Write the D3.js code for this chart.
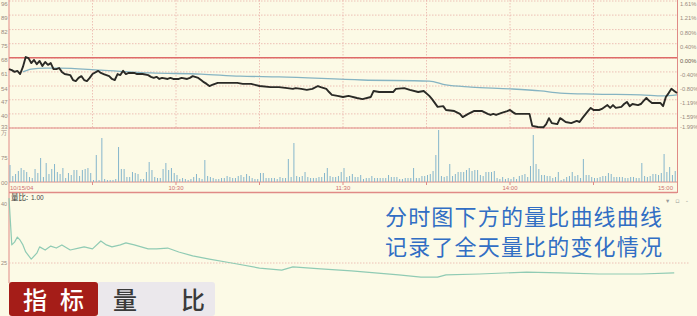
<!DOCTYPE html>
<html>
<head>
<meta charset="utf-8">
<script src="https://cdn.jsdelivr.net/npm/d3@7"></script>
<style>
  body { margin: 0; background: #fcfae6; }
  svg { display: block; }
</style>
</head>
<body>
<div id="chart"></div>
<script>
// axis labels
const pctTicks = [1.61, 1.21, 0.80, 0.40, 0.00, -0.40, -0.80, -1.19, -1.59, -1.99];
const priceTickLabels = ["96", "89", "82", "75", "68", "61", "54", "47", "40", "33"];
const gridMinutes = [30, 60, 90, 120, 150, 180, 210];
const timeLabelMinutes = [0, 60, 120, 180, 240];
const timeLabelTexts = ["10/15/04", "10:30", "11:30", "14:00", "15:00"];
const volTicks = [150, 75, 0];
const volTickLabels = ["万", "75", "00"];
const lbTicks = [40, 25];

// price line (% change), read at these minutes
const priceMinutes = [0,1,2,3,4,5,6,7,8,9,10,11,12,13,14,15,16,17,18,19,20,22,23,24,25,26,27,28,29,30,32,33,34,36,37,38,39,40,41,42,43,45,46,48,50,51,52,53,54,55,57,58,59,61,62,64,65,66,68,69,70,71,72,73,75,79,82,84,87,90,94,97,100,102,103,105,107,109,111,112,114,115,116,118,120,122,125,127,130,131,133,138,139,142,144,147,149,151,152,154,156,157,160,162,163,165,167,170,172,173,174,175,176,177,179,180,181,182,187,188,190,192,193,194,195,197,198,199,200,202,204,205,206,208,209,210,212,213,215,216,217,218,220,221,222,223,224,226,227,228,229,230,231,234,235,236,237,238,239,240];
const pricePct = [-0.32,-0.35,-0.40,-0.37,-0.46,-0.26,0.02,-0.01,-0.15,-0.06,-0.18,-0.09,-0.23,-0.12,-0.20,-0.15,-0.32,-0.32,-0.29,-0.40,-0.46,-0.49,-0.63,-0.66,-0.57,-0.52,-0.63,-0.66,-0.57,-0.46,-0.37,-0.43,-0.46,-0.52,-0.60,-0.63,-0.46,-0.49,-0.37,-0.46,-0.43,-0.43,-0.46,-0.46,-0.49,-0.54,-0.57,-0.54,-0.60,-0.57,-0.60,-0.57,-0.60,-0.60,-0.57,-0.60,-0.57,-0.52,-0.57,-0.63,-0.69,-0.74,-0.80,-0.77,-0.71,-0.71,-0.71,-0.74,-0.74,-0.80,-0.83,-0.83,-0.86,-0.88,-0.86,-0.88,-0.91,-0.88,-0.80,-0.83,-0.88,-0.97,-1.05,-1.08,-1.11,-1.08,-1.14,-1.17,-1.11,-0.94,-0.97,-0.97,-0.88,-0.86,-0.91,-0.97,-0.94,-1.08,-1.17,-1.39,-1.37,-1.48,-1.51,-1.59,-1.68,-1.59,-1.51,-1.51,-1.59,-1.62,-1.59,-1.62,-1.59,-1.56,-1.51,-1.48,-1.54,-1.59,-1.59,-1.93,-1.96,-1.97,-1.88,-1.71,-1.85,-1.88,-1.71,-1.76,-1.82,-1.85,-1.79,-1.82,-1.71,-1.51,-1.42,-1.48,-1.48,-1.45,-1.34,-1.42,-1.34,-1.42,-1.39,-1.31,-1.25,-1.37,-1.31,-1.34,-1.31,-1.22,-1.14,-1.22,-1.28,-1.28,-1.37,-1.11,-1.00,-0.88,-0.94,-1.00];

// average price line (% change)
const avgMinutes = [5, 8, 13, 18, 33, 51, 69, 83, 97, 127, 151, 157, 166, 180, 191, 198, 210, 227, 235, 240];
const avgPct = [-0.40, -0.32, -0.29, -0.29, -0.35, -0.43, -0.46, -0.52, -0.54, -0.63, -0.66, -0.77, -0.83, -0.88, -0.94, -1.00, -1.03, -1.05, -1.08, -1.05];

// volume per minute
const volumes = [51,18,24,33,42,36,30,15,12,39,
  27,72,15,57,24,39,54,30,24,42,
  12,27,21,36,36,18,36,39,42,27,
  6,81,6,132,9,6,6,6,9,105,
  39,39,15,15,30,27,24,9,9,30,
  60,36,15,12,12,39,57,36,42,27,
  21,9,12,9,6,9,15,24,12,9,
  66,18,15,12,9,9,12,12,18,15,
  12,12,18,21,15,24,18,12,9,9,
  27,27,12,12,12,12,9,15,12,12,
  69,15,117,18,15,18,30,15,12,12,
  12,15,15,27,42,18,15,15,18,30,
  42,15,18,24,15,15,21,9,12,12,
  18,12,12,12,12,12,21,15,15,15,
  9,9,12,12,12,42,12,12,18,18,
  21,24,33,81,156,18,15,18,54,18,
  24,30,30,30,36,42,33,36,36,21,
  18,30,30,30,33,12,9,15,9,12,
  9,15,9,18,21,24,15,48,141,54,
  39,21,21,18,18,12,15,30,6,9,
  15,18,30,18,21,12,69,21,21,15,
  12,12,15,18,18,27,24,15,15,15,
  15,12,12,15,15,12,12,57,18,15,
  18,24,24,21,27,84,30,45,21,33];

// volume ratio (量比) line
const lbMinutes = [0,1,2,3,4,5,6,8,10,11,13,15,17,19,22,25,27,30,33,35,37,40,42,45,50,53,57,61,66,72,80,90,98,102,112,123,140,148,154,157,169,186,198,212,227,239];
const lbValues = [41.5,29.6,30.3,31.6,30.8,29.6,27.8,26.0,27.5,29.1,28.3,29.3,28.8,29.6,28.3,28.8,29.1,28.6,30.6,29.6,29.1,29.6,30.1,29.6,28.6,28.6,28.8,27.8,26.8,26.0,25.0,23.7,23.2,24.0,23.5,23.0,22.0,21.4,21.4,22.0,22.2,22.7,22.5,22.2,22.2,22.5];

const captionLines = ["分时图下方的量比曲线曲线", "记录了全天量比的变化情况"];

const W = 697, H = 316;
const gridColor = "#eab3aa";
const borderColor = "#e08a86";
const labelColor = "#9a8a80";

const svg = d3.select("#chart").append("svg")
    .attr("width", W)
    .attr("height", H)
    .attr("viewBox", `0 0 ${W} ${H}`);

svg.append("rect").attr("width", W).attr("height", H).attr("fill", "#fcfae6");

const x = d3.scaleLinear().domain([0, 240]).range([9, 677]);
const yPct = d3.scaleLinear().domain([-1.99, 1.61]).range([128, 1]);
const yVol = d3.scaleLinear().domain([0, 156]).range([182, 130]);
const yLb = d3.scaleLinear().domain([25, 40]).range([263, 204]);

// price grid
svg.append("g").selectAll("line")
    .data(pctTicks)
    .join("line")
    .attr("x1", 9).attr("x2", 677)
    .attr("y1", d => yPct(d)).attr("y2", d => yPct(d))
    .attr("stroke", gridColor)
    .attr("stroke-width", 0.8)
    .attr("stroke-dasharray", "1.5,1.5");

svg.append("g").selectAll("line")
    .data(gridMinutes)
    .join("line")
    .attr("x1", d => x(d)).attr("x2", d => x(d))
    .attr("y1", 0).attr("y2", 128)
    .attr("stroke", gridColor)
    .attr("stroke-width", 0.8)
    .attr("stroke-dasharray", "1.5,1.5");

// zero line
svg.append("line")
    .attr("x1", 9).attr("x2", 677)
    .attr("y1", yPct(0)).attr("y2", yPct(0))
    .attr("stroke", "#de6a68").attr("stroke-width", 1.6);

// panel borders
const hLines = [128, 182, 192.5];
svg.append("g").selectAll("line")
    .data(hLines)
    .join("line")
    .attr("x1", 9).attr("x2", 677)
    .attr("y1", d => d).attr("y2", d => d)
    .attr("stroke", borderColor)
    .attr("stroke-width", (d, i) => i == 2 ? 1.4 : 1);
svg.append("line").attr("x1", 9).attr("x2", 9).attr("y1", 0).attr("y2", 283)
    .attr("stroke", borderColor).attr("stroke-width", 1);
svg.append("line").attr("x1", 677.5).attr("x2", 677.5).attr("y1", 0).attr("y2", 193)
    .attr("stroke", borderColor).attr("stroke-width", 1);

// small ticks under volume panel
svg.append("g").selectAll("line")
    .data(gridMinutes)
    .join("line")
    .attr("x1", d => x(d)).attr("x2", d => x(d))
    .attr("y1", 182).attr("y2", 185)
    .attr("stroke", borderColor);

// lower panel grid
svg.append("line")
    .attr("x1", 9).attr("x2", 690)
    .attr("y1", yLb(25)).attr("y2", yLb(25))
    .attr("stroke", gridColor).attr("stroke-width", 0.8)
    .attr("stroke-dasharray", "1.5,1.5");

// volume bars
svg.append("g")
    .attr("fill", "#86b6cc")
    .selectAll("rect")
    .data(volumes)
    .join("rect")
    .attr("x", (d, i) => x(i) + 0.5)
    .attr("y", d => yVol(d))
    .attr("width", 1)
    .attr("height", d => yVol(0) - yVol(d));

// avg line
const avgLine = d3.line().x(d => x(d[0])).y(d => yPct(d[1])).curve(d3.curveMonotoneX);
svg.append("path")
    .datum(d3.zip(avgMinutes, avgPct))
    .attr("d", avgLine)
    .attr("fill", "none")
    .attr("stroke", "#86b4c2")
    .attr("stroke-width", 1.3);

// price line
const priceLine = d3.line().x(d => x(d[0])).y(d => yPct(d[1]));
svg.append("path")
    .datum(d3.zip(priceMinutes, pricePct))
    .attr("d", priceLine)
    .attr("fill", "none")
    .attr("stroke", "#2a2a26")
    .attr("stroke-width", 1.9)
    .attr("stroke-linejoin", "round");

// volume ratio line
const lbLine = d3.line().x(d => x(d[0])).y(d => yLb(d[1]));
svg.append("path")
    .datum(d3.zip(lbMinutes, lbValues))
    .attr("d", lbLine)
    .attr("fill", "none")
    .attr("stroke", "#90cbb4")
    .attr("stroke-width", 1.2)
    .attr("stroke-linejoin", "round");

// axis labels
const tiny = "'Liberation Sans', sans-serif";
svg.append("g").selectAll("text")
    .data(pctTicks)
    .join("text")
    .attr("x", 680)
    .attr("y", d => Math.min(yPct(d) + 5, 129))
    .attr("font-family", tiny)
    .attr("font-size", 5.8)
    .attr("fill", (d) => d == 0 ? "#6a5a50" : labelColor)
    .text(d => d.toFixed(2) + "%");

svg.append("g").selectAll("text")
    .data(pctTicks)
    .join("text")
    .attr("x", 1)
    .attr("y", d => Math.min(yPct(d) + 4.5, 129))
    .attr("font-family", tiny)
    .attr("font-size", 6)
    .attr("fill", labelColor)
    .text((d, i) => priceTickLabels[i]);

svg.append("g").selectAll("text")
    .data(volTicks)
    .join("text")
    .attr("x", 1)
    .attr("y", d => yVol(d) + 3)
    .attr("font-family", tiny)
    .attr("font-size", 6)
    .attr("fill", labelColor)
    .text((d, i) => volTickLabels[i]);

svg.append("g").selectAll("text")
    .data(lbTicks)
    .join("text")
    .attr("x", 1)
    .attr("y", d => yLb(d) + 2)
    .attr("font-family", tiny)
    .attr("font-size", 5.5)
    .attr("fill", labelColor)
    .text(d => d);

svg.append("g").selectAll("text")
    .data(timeLabelMinutes)
    .join("text")
    .attr("x", (d, i) => i == 0 ? x(d) + 1 : (i == 4 ? x(d) - 4 : x(d)))
    .attr("y", 189.5)
    .attr("text-anchor", (d, i) => i == 0 ? "start" : (i == 4 ? "end" : "middle"))
    .attr("font-family", tiny)
    .attr("font-size", 6)
    .attr("fill", "#d07070")
    .text((d, i) => timeLabelTexts[i]);

svg.append("text")
    .attr("x", 11).attr("y", 200)
    .attr("font-family", "'Noto Sans CJK SC', sans-serif")
    .attr("font-size", 7.5)
    .attr("fill", "#333")
    .text("量比:");
svg.append("text")
    .attr("x", 31).attr("y", 200)
    .attr("font-family", tiny)
    .attr("font-size", 6.5)
    .attr("fill", "#444")
    .text("1.00");

svg.append("text")
    .attr("x", 666).attr("y", 203)
    .attr("font-family", "'DejaVu Sans', sans-serif")
    .attr("font-size", 6.5)
    .attr("fill", "#9a9a9a")
    .attr("letter-spacing", 2)
    .text("▾ ▫ -");

// caption
svg.append("g").selectAll("text")
    .data(captionLines)
    .join("text")
    .attr("x", 385)
    .attr("y", (d, i) => 225 + i * 29.5)
    .attr("font-family", "'Noto Sans CJK SC', sans-serif")
    .attr("font-size", 22)
    .attr("textLength", 277)
    .attr("fill", "#316ec4")
    .text(d => d);

// indicator tag
svg.append("rect")
    .attr("x", 97).attr("y", 282).attr("width", 118).attr("height", 34)
    .attr("rx", 3)
    .attr("fill", "#ebe8ec");
svg.append("rect")
    .attr("x", 9).attr("y", 282).attr("width", 89).attr("height", 34)
    .attr("rx", 3)
    .attr("fill", "#a51d18");

const tagFont = "'Noto Sans CJK SC', sans-serif";
const tagChars = [["指", 35, "#fff"], ["标", 72, "#fff"], ["量", 125, "#3a3a3a"], ["比", 193, "#3a3a3a"]];
svg.append("g").selectAll("text")
    .data(tagChars)
    .join("text")
    .attr("x", d => d[1])
    .attr("y", 309)
    .attr("text-anchor", "middle")
    .attr("font-family", tagFont)
    .attr("font-size", 24)
    .attr("font-weight", 500)
    .attr("fill", d => d[2])
    .text(d => d[0]);
</script>
</body>
</html>
